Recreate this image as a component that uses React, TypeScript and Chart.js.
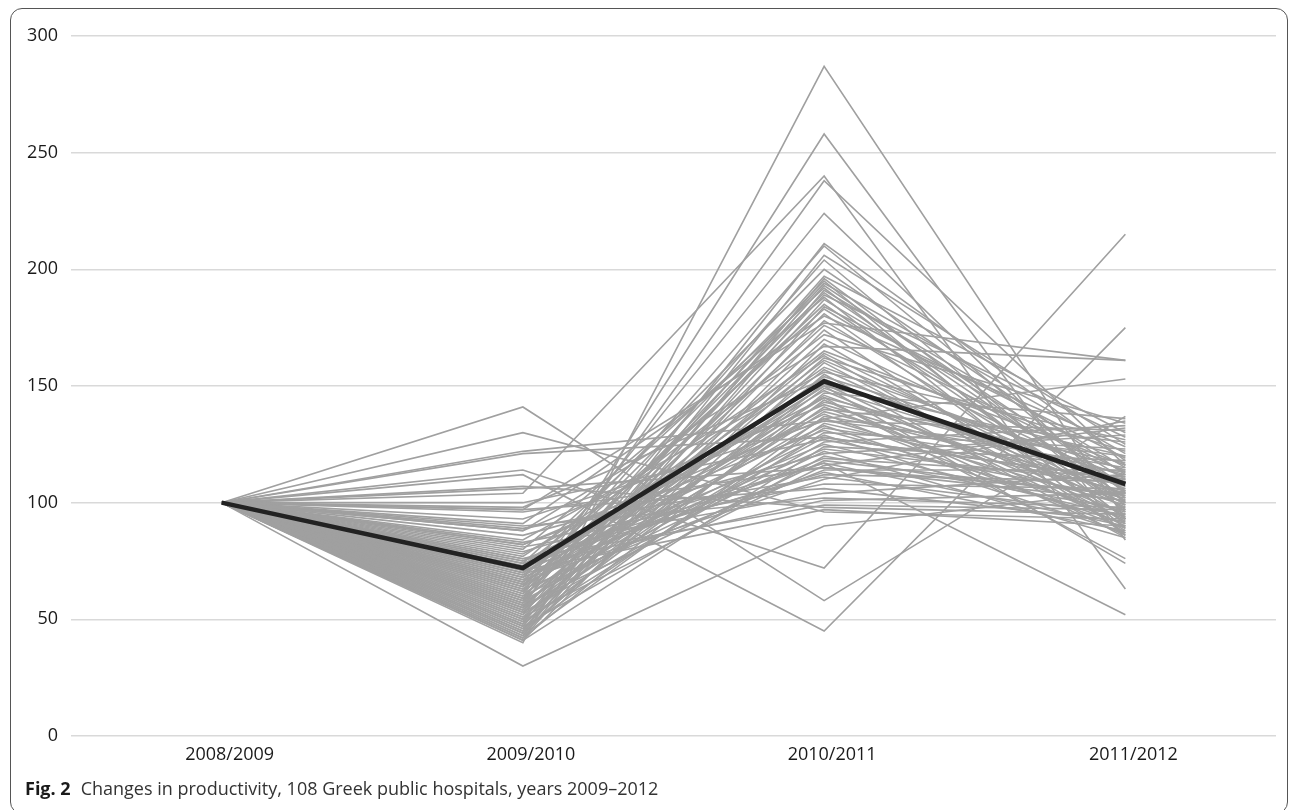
import React, { useEffect, useRef } from "react";
import { Chart, registerables } from "chart.js";

Chart.register(...registerables);

const categories = ["2008/2009", "2009/2010", "2010/2011", "2011/2012"];
const baseIndex = 100;

const idx0910 = [
  141, 130, 122, 121, 114, 112, 107, 106, 104, 40, 55, 58, 64, 30, 97, 88, 82, 75, 70, 66,
  48, 62, 45, 57, 70, 52, 44, 66, 59, 50, 74, 43, 61, 54, 80, 47, 64, 42, 68, 55,
  91, 49, 60, 46, 73, 53, 41, 65, 58, 77, 51, 63, 44, 69, 56, 84, 45, 62, 98, 50,
  67, 54, 71, 42, 59, 78, 48, 64, 88, 52, 66, 57, 75, 43, 61, 93, 46, 70, 55, 82,
  49, 65, 58, 100, 53, 72, 41, 68, 60, 86, 47, 69, 56, 79, 51, 96, 63, 74, 76, 89,
  67, 83, 97, 81, 90, 73, 76, 71,
];

const idx1011 = [
  58, 96, 135, 128, 72, 45, 98, 115, 240, 287, 258, 238, 224, 90, 177, 167, 136, 117, 150, 145,
  211, 210, 206, 204, 200, 197, 196, 195, 194, 193, 192, 191, 190, 189, 188, 187, 185, 184, 183, 181,
  180, 178, 176, 174, 172, 170, 168, 165, 164, 163, 162, 161, 160, 158, 157, 156, 155, 154, 153, 151,
  150, 149, 148, 147, 146, 145, 144, 143, 142, 141, 140, 139, 138, 137, 136, 135, 134, 133, 132, 131,
  130, 129, 128, 127, 126, 125, 124, 123, 122, 121, 120, 119, 118, 117, 116, 115, 114, 113, 112, 111,
  110, 108, 106, 104, 102, 101, 99, 97,
];

const idx1112 = [
  137, 93, 120, 110, 215, 175, 95, 104, 63, 93, 84, 116, 100, 105, 161, 161, 153, 52, 74, 76,
  118, 104, 125, 96, 112, 130, 100, 89, 121, 107, 93, 115, 102, 128, 86, 110, 97, 119, 105, 91,
  124, 99, 113, 87, 134, 108, 94, 116, 101, 88, 122, 106, 92, 111, 98, 127, 85, 114, 103, 90,
  120, 109, 95, 136, 100, 112, 86, 117, 104, 93, 126, 107, 89, 115, 99, 131, 105, 91, 113, 96,
  123, 87, 110, 102, 133, 94, 118, 108, 85, 129, 97, 111, 103, 90, 132, 101, 114, 88, 109, 95,
  135, 106, 92, 112, 98, 104, 97, 90,
];

const averageSeries = [100, 72, 152, 108];

const yMin = 0;
const yMax = 300;
const yStep = 50;

const captionLabel = "Fig. 2";
const captionText = "Changes in productivity, 108 Greek public hospitals, years 2009–2012";

export default function App() {
  const canvasRef = useRef<HTMLCanvasElement | null>(null);

  useEffect(() => {
    const canvas = canvasRef.current;
    if (!canvas) return;
    const hospitalSets = idx0910.map((v, i) => ({
      label: "Hospital " + (i + 1),
      data: [baseIndex, v, idx1011[i], idx1112[i]],
      borderColor: "#a0a0a0",
      borderWidth: 1.6,
      pointRadius: 0,
      tension: 0,
      fill: false,
      order: 1,
    }));
    const chart = new Chart(canvas, {
      type: "line",
      data: {
        labels: categories,
        datasets: [
          {
            label: "Average",
            data: averageSeries,
            borderColor: "#222222",
            borderWidth: 4.5,
            pointRadius: 0,
            tension: 0,
            fill: false,
            order: 0,
          },
          ...hospitalSets,
        ],
      },
      options: {
        animation: false,
        responsive: false,
        devicePixelRatio: 1,
        layout: { padding: { top: 36, right: 16, bottom: 34, left: 0 } },
        plugins: {
          legend: { display: false },
          tooltip: { enabled: false },
        },
        scales: {
          x: {
            offset: true,
            grid: { display: false, drawTicks: false },
            border: { display: false },
            ticks: {
              color: "#1a1a1a",
              font: { family: "'Open Sans', sans-serif", size: 18 },
              padding: 8,
              labelOffset: 8,
              maxRotation: 0,
            },
            afterFit: (scale: any) => {
              scale.height = 40;
            },
          },
          y: {
            min: yMin,
            max: yMax,
            grid: { color: "#d9d9d9", lineWidth: 1.5, drawTicks: false },
            border: { display: false },
            ticks: {
              stepSize: yStep,
              color: "#1a1a1a",
              font: { family: "'Open Sans', sans-serif", size: 18 },
              padding: 13,
            },
            afterFit: (scale: any) => {
              scale.width = 71;
            },
          },
        },
      },
    });
    return () => chart.destroy();
  }, []);

  return (
    <div>
      <div
        style={{
          position: "fixed",
          left: 10,
          top: 8,
          width: 1278,
          height: 806,
          border: "1.5px solid #555",
          borderRadius: 12,
          boxSizing: "border-box",
        }}
      />
      <canvas
        ref={canvasRef}
        width={1292}
        height={810}
        style={{ position: "fixed", left: 0, top: 0, width: 1292, height: 810 }}
      />
      <div
        style={{
          position: "fixed",
          left: 25,
          top: 775,
          fontFamily: "'Open Sans', sans-serif",
          fontSize: 18,
          lineHeight: "26px",
          color: "#333",
          whiteSpace: "nowrap",
        }}
      >
        <span style={{ fontWeight: 700, color: "#1a1a1a", marginRight: 10 }}>{captionLabel}</span>
        <span>{captionText}</span>
      </div>
    </div>
  );
}
